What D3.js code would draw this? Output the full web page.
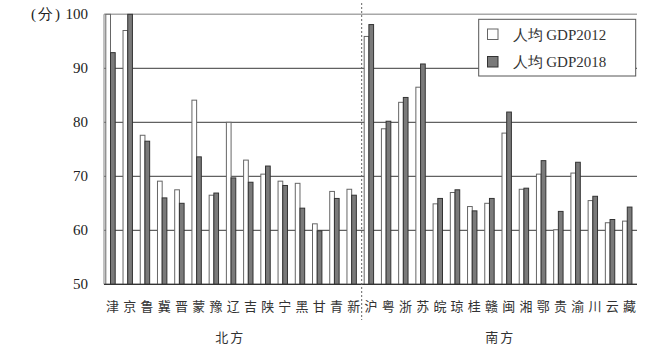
<!DOCTYPE html>
<html><head><meta charset="utf-8">
<script src="https://cdn.jsdelivr.net/npm/d3@7"></script>
<style>html,body{margin:0;padding:0;background:#fff;}svg{display:block;}</style>
</head><body>
<svg id="c" width="662" height="354"></svg>
<script>
const categories = ["津","京","鲁","冀","晋","蒙","豫","辽","吉","陕","宁","黑","甘","青","新","沪","粤","浙","苏","皖","琼","桂","赣","闽","湘","鄂","贵","渝","川","云","藏"];
const gdp2012 = [100, 97.0, 77.6, 69.1, 67.5, 84.1, 66.5, 80.0, 73.0, 70.4, 69.1, 68.7, 61.2, 67.2, 67.6, 95.9, 78.8, 83.7, 86.5, 64.9, 67.0, 64.4, 65.0, 78.0, 67.6, 70.4, 60.1, 70.6, 65.5, 61.4, 61.7];
const gdp2018 = [92.9, 100, 76.5, 66.0, 65.0, 73.6, 66.9, 69.7, 68.9, 71.9, 68.3, 64.1, 59.9, 65.9, 66.5, 98.1, 80.2, 84.6, 90.8, 65.9, 67.5, 63.6, 65.9, 81.9, 67.8, 72.9, 63.5, 72.6, 66.3, 62.0, 64.3];
const seriesNames = ["人均 GDP2012", "人均 GDP2018"];
const yTicks = [50, 60, 70, 80, 90, 100];
const regions = ["北方", "南方"];
const northCount = 15;

const svg = d3.select("#c");
const serif = "'Liberation Serif','DejaVu Serif',serif";
const cjk = "'Noto Sans CJK SC','Noto Sans CJK JP',sans-serif";

const x = d3.scaleBand().domain(categories).range([104, 638]).padding(0);
const x1 = d3.scaleBand().domain([0, 1]).range([1.8, 11.2]).padding(0);
const y = d3.scaleLinear().domain([50, 100]).range([284.3, 14.3]);

// gridlines
svg.append("g").selectAll("line").data(yTicks).join("line")
  .attr("x1", 104).attr("x2", 637)
  .attr("y1", d => y(d)).attr("y2", d => y(d))
  .attr("stroke", d => d === 100 ? "#a8a8a8" : "#3a3a3a")
  .attr("stroke-width", d => d === 100 ? 1.5 : 1);

// y axis line
svg.append("line").attr("x1", 104).attr("x2", 104).attr("y1", y(100)).attr("y2", y(50))
  .attr("stroke", "#999").attr("stroke-width", 1.2);

// y tick labels
svg.append("g").selectAll("text").data(yTicks).join("text")
  .attr("x", 88).attr("y", d => y(d) + 5)
  .attr("text-anchor", "end")
  .attr("font-family", serif).attr("font-size", 15).attr("fill", "#222")
  .text(d => d);
svg.append("text").attr("x", 31).attr("y", y(100) + 5)
  .attr("font-family", serif).attr("font-size", 15).attr("fill", "#222")
  .attr("letter-spacing", 2)
  .text("(分)");

// bars
const data = categories.map((c, i) => ({c, v: [gdp2012[i], gdp2018[i]]}));
const groups = svg.append("g").selectAll("g").data(data).join("g")
  .attr("transform", d => `translate(${x(d.c)},0)`);
groups.selectAll("rect").data(d => d.v.map((v, k) => ({v, k}))).join("rect")
  .attr("x", d => x1(d.k)).attr("width", x1.bandwidth())
  .attr("y", d => y(d.v)).attr("height", d => y(50) - y(d.v))
  .attr("fill", d => d.k === 0 ? "#fff" : "#7a7a7a")
  .attr("stroke", d => d.k === 0 ? "#666" : "#333")
  .attr("stroke-width", 1);

// bottom axis line
svg.append("line").attr("x1", 104).attr("x2", 637).attr("y1", y(50)).attr("y2", y(50))
  .attr("stroke", "#333").attr("stroke-width", 1.2);

// category labels
svg.append("g").selectAll("text").data(categories).join("text")
  .attr("x", d => x(d) + x.bandwidth() / 2).attr("y", 311)
  .attr("text-anchor", "middle")
  .attr("font-family", cjk).attr("font-size", 13).attr("fill", "#333")
  .text(d => d);

// region labels
const northCenter = (x(categories[0]) + x(categories[northCount - 1]) + x.bandwidth()) / 2;
const southCenter = (x(categories[northCount]) + x(categories[categories.length - 1]) + x.bandwidth()) / 2;
svg.append("g").selectAll("text").data(regions).join("text")
  .attr("x", (d, i) => i === 0 ? northCenter - 3 : southCenter)
  .attr("y", 342)
  .attr("text-anchor", "middle")
  .attr("font-family", cjk).attr("font-size", 13).attr("fill", "#333")
  .attr("letter-spacing", 2)
  .text(d => d);

// divider
const divX = x(categories[northCount]) - 0.7;
svg.append("line").attr("x1", divX).attr("x2", divX).attr("y1", 3).attr("y2", 320)
  .attr("stroke", "#666").attr("stroke-width", 1).attr("stroke-dasharray", "2,2");

// legend
const lg = svg.append("g");
lg.append("rect").attr("x", 478.7).attr("y", 19.3).attr("width", 157).attr("height", 56.7)
  .attr("fill", "#fff").attr("stroke", "#555").attr("stroke-width", 1);
seriesNames.forEach((s, k) => {
  lg.append("rect").attr("x", 487.5).attr("y", 29 + k * 27.5).attr("width", 10.5).attr("height", 10.5)
    .attr("fill", k === 0 ? "#fff" : "#7a7a7a").attr("stroke", k === 0 ? "#666" : "#333");
  lg.append("text").attr("x", 512.5).attr("y", 40 + k * 27)
    .attr("font-family", serif).attr("font-size", 15).attr("fill", "#333")
    .text(s);
});
</script>
</body></html>
